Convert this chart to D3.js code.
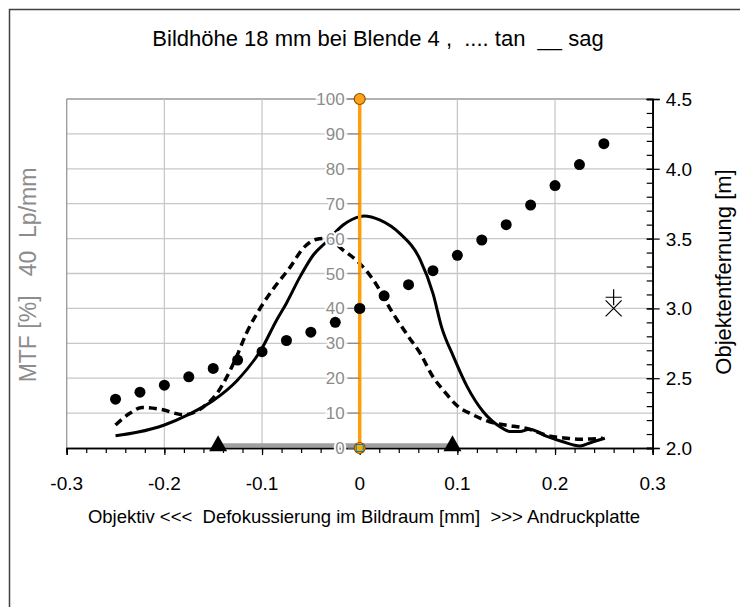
<!DOCTYPE html>
<html>
<head>
<meta charset="utf-8">
<script src="https://cdn.jsdelivr.net/npm/d3@7"></script>
<style>
  body { margin: 0; background: #fff; }
  svg { display: block; font-family: "Liberation Sans", Arial, sans-serif; }
</style>
</head>
<body>
<div id="chart"></div>
<script>
// --- data ---
var xTicks = [-0.3, -0.2, -0.1, 0, 0.1, 0.2, 0.3]
var xTickLabels = ["-0.3", "-0.2", "-0.1", "0", "0.1", "0.2", "0.3"]
var mtfTicks = [0, 10, 20, 30, 40, 50, 60, 70, 80, 90, 100]
var distTicks = [2.0, 2.5, 3.0, 3.5, 4.0, 4.5]

// sag (solid) MTF curve: defocus [mm] / MTF [%]
var sagX = [-0.25, -0.228, -0.2, -0.176, -0.15, -0.125, -0.1, -0.085, -0.075, -0.061, -0.0475, -0.034, -0.017, 0, 0.004, 0.021, 0.041, 0.062, 0.075, 0.084, 0.096, 0.11, 0.1265, 0.1436, 0.154, 0.164, 0.174, 0.191, 0.208, 0.2255, 0.239, 0.251]
var sagMtf = [3.5, 4.5, 6.6, 9.5, 13.6, 19.5, 28.6, 36.7, 41.5, 49.1, 55.3, 59.1, 63.9, 66.3, 66.5, 65.3, 61.5, 53.9, 44.3, 34.5, 26.2, 17.6, 10.4, 6.1, 4.7, 4.7, 5.4, 3.4, 1.8, 0.6, 1.8, 2.8]

// tan (dashed) MTF curve
var tanX = [-0.25, -0.235, -0.223, -0.204, -0.18, -0.16, -0.146, -0.136, -0.126, -0.116, -0.102, -0.088, -0.071, -0.058, -0.044, -0.034, -0.017, 0, 0.014, 0.034, 0.05, 0.062, 0.075, 0.087, 0.099, 0.116, 0.133, 0.149, 0.171, 0.195, 0.212, 0.2255, 0.249]
var tanMtf = [6.6, 10, 11.6, 11.1, 9.5, 11.8, 15.7, 20.4, 26.2, 32.9, 40, 45.8, 51.9, 57.2, 59.8, 60.1, 56.7, 52.9, 48.1, 38.6, 31.9, 27.1, 20.4, 16.1, 12.3, 9.5, 7.5, 6.6, 5.6, 3.4, 2.8, 2.5, 2.8]

// object distance (dots, right axis)
var distX = [-0.25, -0.225, -0.2, -0.175, -0.15, -0.125, -0.1, -0.075, -0.05, -0.025, 0, 0.025, 0.05, 0.075, 0.1, 0.125, 0.15, 0.175, 0.2, 0.225, 0.25]
var distM = [2.35, 2.40, 2.45, 2.51, 2.57, 2.63, 2.69, 2.77, 2.83, 2.90, 3.00, 3.09, 3.17, 3.27, 3.38, 3.49, 3.60, 3.74, 3.88, 4.03, 4.18]

// depth of field ends (triangles) and focus line
var dofX = [-0.145, 0.095]
var dofMtf = [0.8, 0.8]
var focusX = [0, 0]
var focusMtf = [0, 100]
// single markers at the right
var plusPt = [0.26, 3.08]
var crossPt = [0.26, 3.0]

var width = 740
var height = 607

var svg = d3.select("#chart").append("svg")
    .attr("width", width)
    .attr("height", height)

// outer frame (runs off the picture at right and bottom)
svg.append("rect")
    .attr("x", 9.5).attr("y", 9.5)
    .attr("width", 760).attr("height", 620)
    .attr("fill", "none").attr("stroke", "#404040").attr("stroke-width", 1.5)

//Scales
var x = d3.scaleLinear().domain([-0.3, 0.3]).range([66.7, 652.7])
var y = d3.scaleLinear().domain([0, 100]).range([448, 99])
var yR = d3.scaleLinear().domain([2, 4.5]).range([448, 99])

var plot = svg.append("g")

// gridlines
plot.selectAll("line.hgrid")
    .data(mtfTicks.slice(1))
    .enter().append("line")
    .attr("x1", x(-0.3)).attr("x2", x(0.3))
    .attr("y1", d => y(d)).attr("y2", d => y(d))
    .attr("stroke", d => d === 100 ? "#999" : "#c8c8c8").attr("stroke-width", 1.3)

plot.selectAll("line.vgrid")
    .data(xTicks.filter(d => d !== 0.3))
    .enter().append("line")
    .attr("x1", d => x(d)).attr("x2", d => x(d))
    .attr("y1", y(0)).attr("y2", y(100))
    .attr("stroke", d => d === -0.3 ? "#999" : "#c8c8c8").attr("stroke-width", 1.3)

// bottom axis with minor ticks
var xAxis = svg.append("g").attr("transform", "translate(0," + y(0) + ")")
xAxis.call(d3.axisBottom(x).tickValues(d3.range(-30, 31, 2).map(d => d / 100)).tickSize(5).tickFormat(""))
xAxis.append("g").call(d3.axisBottom(x).tickValues(xTicks).tickSize(7).tickFormat(""))
xAxis.selectAll("path.domain").attr("stroke", "#000").attr("stroke-width", 1.5)
xAxis.selectAll(".tick line").attr("stroke", "#000").attr("stroke-width", 1.2)
svg.selectAll("text.xlab")
    .data(xTicks)
    .enter().append("text")
    .attr("x", d => x(d)).attr("y", 490)
    .attr("text-anchor", "middle")
    .attr("font-size", 19)
    .text((d, i) => xTickLabels[i])

// right axis
var rAxis = svg.append("g").attr("transform", "translate(" + x(0.3) + ",0)")
rAxis.call(d3.axisLeft(yR).tickValues(d3.range(20, 46, 1).map(d => d / 10)).tickSize(6).tickFormat(""))
rAxis.append("g").call(d3.axisRight(yR).tickValues(distTicks).tickSize(7).tickFormat(""))
rAxis.append("g").call(d3.axisLeft(yR).tickValues(distTicks).tickSize(6).tickFormat(""))
rAxis.selectAll("path.domain").attr("stroke", "#000").attr("stroke-width", 1.5)
rAxis.selectAll(".tick line").attr("stroke", "#000").attr("stroke-width", 1.2)
svg.selectAll("text.rlab")
    .data(distTicks)
    .enter().append("text")
    .attr("x", x(0.3) + 13).attr("y", d => yR(d) + 7)
    .attr("font-size", 19)
    .text(d => d3.format(".1f")(d))

// depth of field bar
var line = d3.line().x(d => x(d[0])).y(d => y(d[1]))
var dof = dofX.map((d, i) => [d, dofMtf[i]])
plot.append("path")
    .attr("d", line(dof))
    .attr("stroke", "#a0a0a0").attr("stroke-width", 4).attr("fill", "none")

// MTF curves
var smooth = d3.line().x(d => x(d[0])).y(d => y(d[1])).curve(d3.curveMonotoneX)
plot.append("path")
    .attr("d", smooth(tanX.map((d, i) => [d, tanMtf[i]])))
    .attr("stroke", "#000").attr("stroke-width", 3.5).attr("fill", "none")
    .attr("stroke-dasharray", "8,5")
plot.append("path")
    .attr("d", smooth(sagX.map((d, i) => [d, sagMtf[i]])))
    .attr("stroke", "#000").attr("stroke-width", 3).attr("fill", "none")

// object distance dots
plot.selectAll("circle.dist")
    .data(distX.map((d, i) => [d, distM[i]]))
    .enter().append("circle")
    .attr("cx", d => x(d[0])).attr("cy", d => yR(d[1]))
    .attr("r", 5.5).attr("fill", "#000")

// MTF axis at x = 0 (grey labels drawn on top with a white halo)
var mtfLab = svg.append("g")
mtfLab.selectAll("line")
    .data(mtfTicks)
    .enter().append("line")
    .attr("x1", x(0) - 12).attr("x2", x(0))
    .attr("y1", d => y(d)).attr("y2", d => y(d))
    .attr("stroke", "#8c8c8c").attr("stroke-width", 1.3)
mtfLab.selectAll("text")
    .data(mtfTicks)
    .enter().append("text")
    .attr("x", x(0) - 15).attr("y", d => y(d) + 6)
    .attr("text-anchor", "end")
    .attr("font-size", 17).attr("fill", "#8c8c8c")
    .attr("stroke", "#fff").attr("stroke-width", 4).attr("paint-order", "stroke")
    .text(d => d)

// focus line
plot.append("path")
    .attr("d", line(focusX.map((d, i) => [d, focusMtf[i]])))
    .attr("stroke", "#ff9d0a").attr("stroke-width", 3.5).attr("fill", "none")
svg.selectAll("circle.focus")
    .data(focusX.map((d, i) => [d, focusMtf[i]]))
    .enter().append("circle")
    .attr("cx", d => x(d[0])).attr("cy", d => y(d[1]))
    .attr("r", 5.5).attr("fill", "#ffa21a").attr("stroke", "#8a5200").attr("stroke-width", 1.2)
svg.append("rect")
    .attr("x", x(0) - 3.5).attr("y", y(0) - 3.5)
    .attr("width", 7).attr("height", 7)
    .attr("fill", "#f0b400").attr("stroke", "#1e6fa8").attr("stroke-width", 1)
svg.append("circle")
    .attr("cx", x(0)).attr("cy", yR(3.0))
    .attr("r", 5.5).attr("fill", "#000")

// triangles at the depth of field ends
svg.selectAll("path.tri")
    .data(dof)
    .enter().append("path")
    .attr("transform", d => "translate(" + x(d[0]) + "," + (y(d[1]) - 1) + ")")
    .attr("d", "M0,-9L9,7L-9,7Z")
    .attr("fill", "#000")

// plus and cross markers
var pp = [x(plusPt[0]), yR(plusPt[1])]
svg.append("path")
    .attr("d", "M" + (pp[0] - 8) + "," + pp[1] + "H" + (pp[0] + 8) + "M" + pp[0] + "," + (pp[1] - 8) + "V" + (pp[1] + 8))
    .attr("stroke", "#000").attr("stroke-width", 1.2)
var cp = [x(crossPt[0]), yR(crossPt[1])]
svg.append("path")
    .attr("d", "M" + (cp[0] - 8) + "," + (cp[1] - 8) + "L" + (cp[0] + 8) + "," + (cp[1] + 8) + "M" + (cp[0] + 8) + "," + (cp[1] - 8) + "L" + (cp[0] - 8) + "," + (cp[1] + 8))
    .attr("stroke", "#000").attr("stroke-width", 1.2)

// titles
svg.append("text")
    .attr("x", 378).attr("y", 46)
    .attr("text-anchor", "middle").attr("font-size", 22)
    .style("white-space", "pre")
    .text("Bildhöhe 18 mm bei Blende 4 ,  .... tan  __ sag")

svg.append("text")
    .attr("x", 364).attr("y", 523)
    .attr("text-anchor", "middle").attr("font-size", 18.5)
    .style("white-space", "pre")
    .text("Objektiv <<<  Defokussierung im Bildraum [mm]  >>> Andruckplatte")

svg.append("text")
    .attr("transform", "translate(36,275) rotate(-90)")
    .attr("text-anchor", "middle").attr("font-size", 23).attr("fill", "#8c8c8c")
    .style("white-space", "pre")
    .text("MTF [%]   40  Lp/mm")

svg.append("text")
    .attr("transform", "translate(731,272) rotate(-90)")
    .attr("text-anchor", "middle").attr("font-size", 22)
    .text("Objektentfernung [m]")
</script>
</body>
</html>
